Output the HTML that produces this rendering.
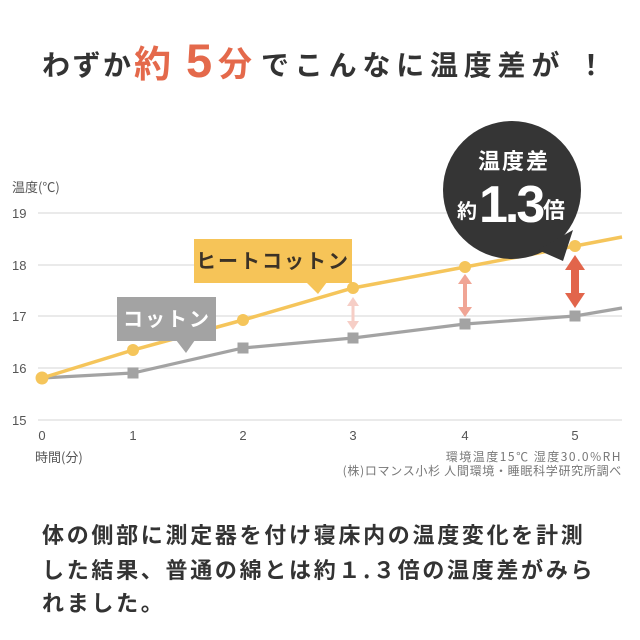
<!DOCTYPE html>
<html><head><meta charset="utf-8">
<style>
html,body{margin:0;padding:0;background:#fff;}
svg{display:block;}
text{font-family:"Liberation Sans","Noto Sans CJK JP",sans-serif;}
.jp{font-family:"Noto Sans CJK JP","Liberation Sans",sans-serif;}
</style></head>
<body>
<svg width="640" height="640" viewBox="0 0 640 640" xmlns="http://www.w3.org/2000/svg">
<rect width="640" height="640" fill="#fff"/>
<!-- Title -->
<g class="jp" font-weight="700">
<text x="42" y="75" font-size="28" fill="#333" letter-spacing="2.5" class="jp">わずか</text>
<text x="134" y="77" font-size="37" fill="#E4694B" class="jp">約</text>
<text x="186" y="77" font-size="47" fill="#E4694B" font-weight="700" style="font-family:'Liberation Sans',sans-serif">5</text>
<text x="218" y="76" font-size="34" fill="#E4694B" class="jp">分</text>
<text x="261" y="75" font-size="28" fill="#333" letter-spacing="5.8" class="jp">でこんなに温度差が</text>
<text x="577" y="75" font-size="28" fill="#333" class="jp">！</text>
</g>

<!-- grid -->
<g stroke="#e3e3e3" stroke-width="1.5">
<line x1="38" y1="213" x2="622" y2="213"/>
<line x1="38" y1="265" x2="622" y2="265"/>
<line x1="38" y1="316" x2="622" y2="316"/>
<line x1="38" y1="368" x2="622" y2="368"/>
<line x1="38" y1="420" x2="622" y2="420"/>
</g>

<!-- axis labels -->
<g fill="#555" font-size="13" class="jp">
<text x="12" y="192" class="jp">温度(℃)</text>
<text x="12" y="218">19</text>
<text x="12" y="270">18</text>
<text x="12" y="321">17</text>
<text x="12" y="373">16</text>
<text x="12" y="425">15</text>
</g>
<g fill="#555" font-size="13" text-anchor="middle">
<text x="42" y="440">0</text>
<text x="133" y="440">1</text>
<text x="243" y="440">2</text>
<text x="353" y="440">3</text>
<text x="465" y="440">4</text>
<text x="575" y="440">5</text>
</g>
<text x="35" y="462" fill="#555" font-size="13" class="jp">時間(分)</text>
<g fill="#777" font-size="12" text-anchor="end" class="jp">
<text x="622" y="461" letter-spacing="1.5" class="jp">環境温度15℃ 湿度30.0%RH</text>
<text x="622" y="475" letter-spacing="0.7" class="jp">(株)ロマンス小杉 人間環境・睡眠科学研究所調べ</text>
</g>

<!-- arrows -->
<g fill="#F6CEC6">
<polygon points="353,297 347,306 359,306"/>
<rect x="351.5" y="305" width="3" height="17"/>
<polygon points="347,321 359,321 353,330"/>
</g>
<g fill="#F0A595">
<polygon points="465,274 458,284 472,284"/>
<rect x="463" y="283" width="4" height="25"/>
<polygon points="458,307 472,307 465,317"/>
</g>
<g fill="#E2654B">
<polygon points="575,255 565,270 585,270"/>
<rect x="571" y="268" width="8" height="27"/>
<polygon points="565,293 585,293 575,308"/>
</g>

<!-- cotton series -->
<polyline points="42,378 133,373 243,348 353,338 465,324 575,316 622,308" fill="none" stroke="#A3A3A3" stroke-width="3.2"/>
<g fill="#A3A3A3">
<rect x="127.5" y="367.5" width="11" height="11"/>
<rect x="237.5" y="342.5" width="11" height="11"/>
<rect x="347.5" y="332.5" width="11" height="11"/>
<rect x="459.5" y="318.5" width="11" height="11"/>
<rect x="569.5" y="310.5" width="11" height="11"/>
</g>

<!-- heat cotton series -->
<polyline points="42,378 133,350 243,320 353,288 465,267 575,246 622,237" fill="none" stroke="#F5C55B" stroke-width="3.5"/>
<g fill="#F5C55B">
<circle cx="42" cy="378" r="6.5"/>
<circle cx="133" cy="350" r="6"/>
<circle cx="243" cy="320" r="6"/>
<circle cx="353" cy="288" r="6"/>
<circle cx="465" cy="267" r="6"/>
<circle cx="575" cy="246" r="6"/>
</g>

<!-- labels -->
<rect x="194" y="239" width="158" height="44" fill="#F6C458"/>
<polygon points="306,282 327,282 318,294" fill="#F6C458"/>
<text x="273" y="268" text-anchor="middle" font-size="20" font-weight="700" fill="#3b3226" letter-spacing="2" class="jp">ヒートコットン</text>

<rect x="117" y="297" width="99" height="44" fill="#A3A3A3"/>
<polygon points="176,340 195,340 186,353" fill="#A3A3A3"/>
<text x="167" y="326" text-anchor="middle" font-size="20" font-weight="700" fill="#fff" letter-spacing="2" class="jp">コットン</text>

<!-- bubble -->
<circle cx="512" cy="190" r="69" fill="#353535"/>
<polygon points="538,250 573,230 563,261" fill="#353535"/>
<text x="514" y="169" text-anchor="middle" font-size="22" font-weight="700" fill="#fff" letter-spacing="2" class="jp">温度差</text>
<text x="457" y="218" font-size="20" font-weight="700" fill="#fff" class="jp">約</text>
<text x="479" y="222" font-size="52" font-weight="700" fill="#fff" letter-spacing="-3" style="font-family:'Liberation Sans',sans-serif">1.3</text>
<text x="543" y="218" font-size="22" font-weight="700" fill="#fff" class="jp">倍</text>

<!-- paragraph -->
<g font-size="22" font-weight="700" fill="#333" letter-spacing="2.7" class="jp">
<text x="42" y="543" class="jp">体の側部に測定器を付け寝床内の温度変化を計測</text>
<text x="42" y="578" class="jp">した結果、普通の綿とは約１.３倍の温度差がみら</text>
<text x="42" y="611" class="jp">れました。</text>
</g>
</svg>
</body></html>
